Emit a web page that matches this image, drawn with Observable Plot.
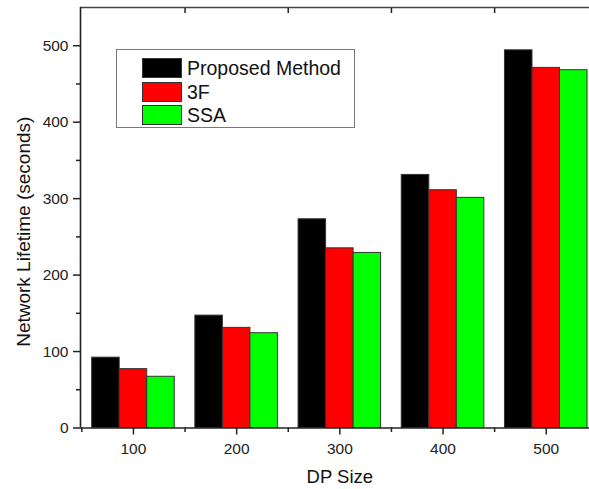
<!DOCTYPE html>
<html><head><meta charset="utf-8">
<script src="https://cdn.jsdelivr.net/npm/d3@7"></script>
<script src="https://cdn.jsdelivr.net/npm/@observablehq/plot@0.6"></script>
<style>
body{margin:0;background:#fff;}
#wrap{position:relative;width:589px;height:489px;overflow:hidden;font-family:"Liberation Sans",Arial,sans-serif;background:#fff;}
#legend{position:absolute;left:116px;top:49px;width:237px;height:77px;border:1px solid #777;background:#fff;}
.row{position:absolute;left:25px;height:21px;}
.sw{position:absolute;left:0;top:0;width:40px;height:20px;border:1px solid #333;box-sizing:border-box;}
.lab{position:absolute;left:45px;top:-2px;font-size:19.5px;line-height:24px;color:#111;white-space:nowrap;}
</style></head><body><div id="wrap"></div>
<script>
const dpSizes = [100, 200, 300, 400, 500];
const seriesNames = ["Proposed Method", "3F", "SSA"];
const proposed = [92, 147, 273, 331, 494];
const f3 = [77, 131, 235, 311, 471];
const ssa = [67, 124, 229, 301, 468];
const colors = ["#000000", "#ff0000", "#00ff00"];
const yTicks = [0, 100, 200, 300, 400, 500];
const yMinor = [50, 150, 250, 350, 450];
const xMinor = [50, 150, 250, 350, 450, 550];
const topMinor = [150, 250, 350, 450];
const xLabel = "DP Size";
const yLabel = "Network Lifetime (seconds)";

const groupWidth = 80;
const xDomain = [48.7, 548.7];
const values = [proposed, f3, ssa];
const data = [];
dpSizes.forEach((dp, i) => seriesNames.forEach((s, j) => data.push({
  dp, series: s, value: values[j][i],
  x1: dp - groupWidth / 2 + j * groupWidth / 3,
  x2: dp - groupWidth / 2 + (j + 1) * groupWidth / 3
})));

const axisColor = "#222";
const chart = Plot.plot({
  width: 589, height: 489,
  marginLeft: 80, marginTop: 7, marginBottom: 61.5, marginRight: 0,
  x: {domain: xDomain, range: [80, 596]},
  y: {domain: [0, 550]},
  color: {domain: seriesNames, range: colors},
  style: {fontFamily: "Liberation Sans, Arial, sans-serif", background: "#fff", overflow: "hidden", color: axisColor},
  marks: [
    Plot.rectY(data, {x1: "x1", x2: "x2", y1: 0, y2: "value", fill: "series", stroke: "#333", strokeWidth: 1}),
    Plot.ruleY([0], {stroke: axisColor, strokeWidth: 1.6}),
    Plot.ruleY([550], {stroke: "#444", strokeWidth: 1.5}),
    Plot.ruleX([xDomain[0]], {stroke: axisColor, strokeWidth: 1.6}),
    Plot.axisY({ticks: yTicks, tickSize: 7, tickPadding: 5, fontSize: 15.5, label: null, tickFormat: d => String(d), stroke: axisColor, strokeWidth: 1.5}),
    Plot.axisY({ticks: yMinor, tickSize: 4, tickFormat: () => "", label: null, stroke: axisColor, strokeWidth: 1.5}),
    Plot.axisX({ticks: dpSizes, tickSize: 7, tickPadding: 8, fontSize: 15.5, label: null, tickFormat: d => String(d), stroke: axisColor, strokeWidth: 1.5}),
    Plot.axisX({ticks: xMinor, tickSize: 4.5, tickFormat: () => "", label: null, stroke: axisColor, strokeWidth: 1.5}),
    Plot.axisX({anchor: "top", ticks: topMinor, tickSize: -5, tickFormat: () => "", label: null, stroke: axisColor, strokeWidth: 1.5}),
    Plot.text([xLabel], {x: 300, frameAnchor: "bottom", lineAnchor: "bottom", dy: 55, fontSize: 18.5, fill: "#111"}),
    Plot.text([yLabel], {frameAnchor: "left", textAnchor: "middle", lineAnchor: "bottom", rotate: -90, dx: -51, dy: 14, fontSize: 19, fill: "#111"})
  ]
});
const wrap = document.getElementById("wrap");
wrap.appendChild(chart);

const legend = document.createElement("div");
legend.id = "legend";
seriesNames.forEach((s, j) => {
  const row = document.createElement("div");
  row.className = "row";
  row.style.top = (8 + j * 23.5) + "px";
  const sw = document.createElement("div");
  sw.className = "sw";
  sw.style.background = colors[j];
  const lab = document.createElement("div");
  lab.className = "lab";
  lab.textContent = s;
  row.appendChild(sw); row.appendChild(lab);
  legend.appendChild(row);
});
wrap.appendChild(legend);
</script></body></html>
